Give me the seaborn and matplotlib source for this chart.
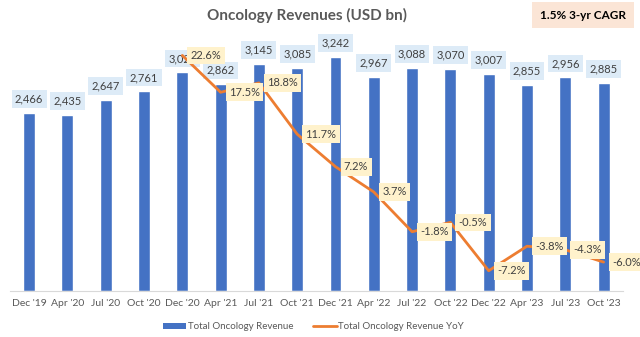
import numpy as np
import pandas as pd
import matplotlib
matplotlib.use("Agg")
import matplotlib.pyplot as plt
import seaborn as sns
from matplotlib.patches import Patch
from matplotlib.lines import Line2D

periods = ["Dec '19", "Apr '20", "Jul '20", "Oct '20", "Dec '20", "Apr '21", "Jul '21", "Oct '21",
           "Dec '21", "Apr '22", "Jul '22", "Oct '22", "Dec '22", "Apr '23", "Jul '23", "Oct '23"]
revenue = [2466, 2435, 2647, 2761, 3024, 2862, 3145, 3085,
           3242, 2967, 3088, 3070, 3007, 2855, 2956, 2885]
yoy = [np.nan, np.nan, np.nan, np.nan, 22.6, 17.5, 18.8, 11.7,
       7.2, 3.7, -1.8, -0.5, -7.2, -3.8, -4.3, -6.0]
title = "Oncology Revenues (USD bn)"
cagr_note = "1.5% 3-yr CAGR"
bar_name = "Total Oncology Revenue"
line_name = "Total Oncology Revenue YoY"

BLUE = "#4472C4"
ORANGE = "#ED7D31"
TXT = "#404040"

df = pd.DataFrame({"period": periods, "revenue": revenue, "yoy": yoy})
df["pos"] = np.arange(len(df))

sns.set_theme(style="white")
plt.rcParams["font.family"] = ["Lato", "DejaVu Sans"]

fig = plt.figure(figsize=(6.4, 3.37), dpi=100)
ax = fig.add_axes([0.0156, 0.1365, 0.9574, 0.7505])

sns.barplot(data=df, x="period", y="revenue", color=BLUE, width=0.31,
            saturation=1, ax=ax, zorder=2)
ax.set_xlim(-0.5, len(periods) - 0.5)
ax.set_ylim(0, 3500)
ax.set_xlabel("")
ax.set_ylabel("")
ax.set_yticks([])
ax.tick_params(axis="x", length=0, pad=6, labelsize=7.5, labelcolor="#595959")
for s in ["top", "left", "right"]:
    ax.spines[s].set_visible(False)
ax.spines["bottom"].set_color("#D9D9D9")
ax.spines["bottom"].set_linewidth(0.8)

for p, v in zip(df["pos"], df["revenue"]):
    ax.annotate(f"{v:,}", (p, v), xytext=(0, 6), textcoords="offset points",
                ha="center", va="bottom", fontsize=8, color=TXT, zorder=5,
                bbox=dict(boxstyle="square,pad=0.3", fc="#DDEBF7", ec="none"))

ax2 = ax.twinx()
sns.lineplot(data=df.dropna(subset=["yoy"]), x="pos", y="yoy", color=ORANGE,
             linewidth=2, ax=ax2, zorder=3)
ax2.set_ylim(-10, 25)
ax2.set_xlim(-0.5, len(periods) - 0.5)
ax2.set_yticks([])
ax2.set_ylabel("")
ax2.set_xlabel("")
for s in ax2.spines.values():
    s.set_visible(False)

for p, v in zip(df["pos"], df["yoy"]):
    if np.isnan(v):
        continue
    ax2.annotate(f"{v:.1f}%", (p, v), xytext=(6, 0), textcoords="offset points",
                 ha="left", va="center", fontsize=8, color=TXT, zorder=6,
                 bbox=dict(boxstyle="square,pad=0.3", fc="#FFF2CC", ec="none"))

fig.text(0.48, 0.955, title, ha="center", va="center", fontsize=11,
         fontweight="bold", color="#595959")
fig.text(0.911, 0.955, cagr_note, ha="center", va="center", fontsize=8.5,
         fontweight="bold", color="#000000",
         bbox=dict(boxstyle="square,pad=0.65", fc="#FBE5D6", ec="none"))

handles = [Patch(facecolor=BLUE, edgecolor="none"),
           Line2D([0], [0], color=ORANGE, linewidth=2)]
fig.legend(handles, [bar_name, line_name], loc="center", bbox_to_anchor=(0.49, 0.03),
           ncol=2, frameon=False, fontsize=7, labelcolor="#595959",
           handlelength=2.4, handleheight=0.7, columnspacing=2.0, handletextpad=0.2)

fig.savefig("out.png", dpi=100)
